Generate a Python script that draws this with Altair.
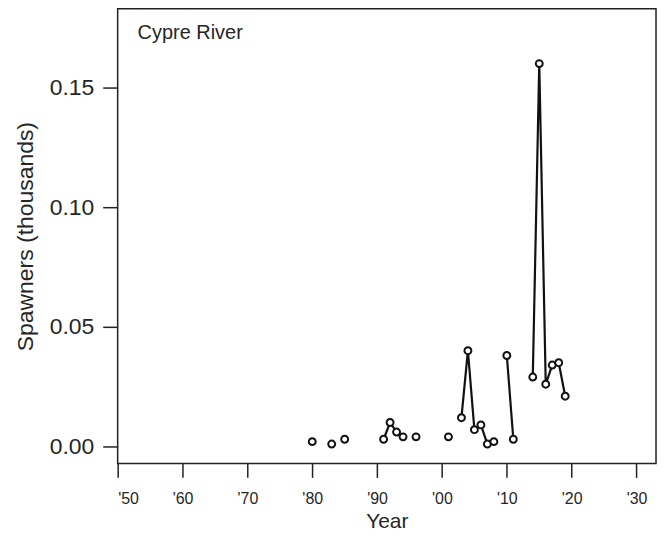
import altair as alt
import pandas as pd

years = [1980, 1983, 1985, 1991, 1992, 1993, 1994, 1996, 2001, 2003, 2004, 2005,
         2006, 2007, 2008, 2010, 2011, 2014, 2015, 2016, 2017, 2018, 2019]
spawners = [0.002, 0.001, 0.003, 0.003, 0.010, 0.006, 0.004, 0.004, 0.004, 0.012,
            0.040, 0.007, 0.009, 0.001, 0.002, 0.038, 0.003, 0.029, 0.160, 0.026,
            0.034, 0.035, 0.021]
x_ticks = list(range(1950, 2031, 5))
y_ticks = [0.0, 0.05, 0.10, 0.15]
river = "Cypre River"

df = pd.DataFrame({"Year": years, "Spawners": spawners})
# segment ids: a new run starts whenever a year is missing
seg = []
s = 0
for i, y in enumerate(years):
    if i > 0 and y != years[i - 1] + 1:
        s += 1
    seg.append(s)
df["seg"] = seg

FONT = "Liberation Sans"
TXT = "#262626"

xscale = alt.Scale(domain=[1950, 2033], nice=False, zero=False)
yscale = alt.Scale(domain=[-0.0071, 0.1829], nice=False, zero=False)

xaxis = alt.Axis(
    values=x_ticks,
    labelExpr="datum.value % 10 == 0 ? \"'\" + slice(toString(datum.value), 2) : ''",
    title="Year", grid=False, domain=False,
    tickSize=14, tickWidth=1.5, tickColor="#222",
    labelFontSize=16, labelFont=FONT, labelColor=TXT, labelPadding=13,
    labelOverlap=False,
    titleFontSize=21, titleFont=FONT, titleColor=TXT, titleFontWeight="normal",
    titlePadding=4,
)
yaxis = alt.Axis(
    values=y_ticks, format=".2f",
    title="Spawners (thousands)", grid=False, domain=False,
    tickSize=15, tickWidth=1.5, tickColor="#222",
    labelFontSize=23, labelFont=FONT, labelColor=TXT, labelPadding=9,
    titleFontSize=23, titleFont=FONT, titleColor=TXT, titleFontWeight="normal",
    titlePadding=12,
)

base = alt.Chart(df)
line = base.mark_line(color="#111", strokeWidth=2.2).encode(
    x=alt.X("Year:Q", scale=xscale, axis=xaxis),
    y=alt.Y("Spawners:Q", scale=yscale, axis=yaxis),
    detail="seg:N",
)
pts = base.mark_point(shape="circle", filled=False, fill="white", fillOpacity=1,
                      color="#111", strokeWidth=2, size=48, opacity=1).encode(
    x=alt.X("Year:Q", scale=xscale),
    y=alt.Y("Spawners:Q", scale=yscale),
)
label = alt.Chart(pd.DataFrame({"t": [river]})).mark_text(
    align="left", baseline="alphabetic", fontSize=20, font=FONT, color=TXT
).encode(x=alt.value(20), y=alt.value(30), text="t:N")

chart = alt.layer(line, pts, label).properties(
    width=540, height=456,
    autosize=alt.AutoSizeParams(type="none"),
    padding={"left": 110, "top": 0, "right": 4, "bottom": 70},
).configure_view(stroke="#222", strokeWidth=1.5)

chart.save("out.html", embed_options={"renderer": "svg", "actions": False})
